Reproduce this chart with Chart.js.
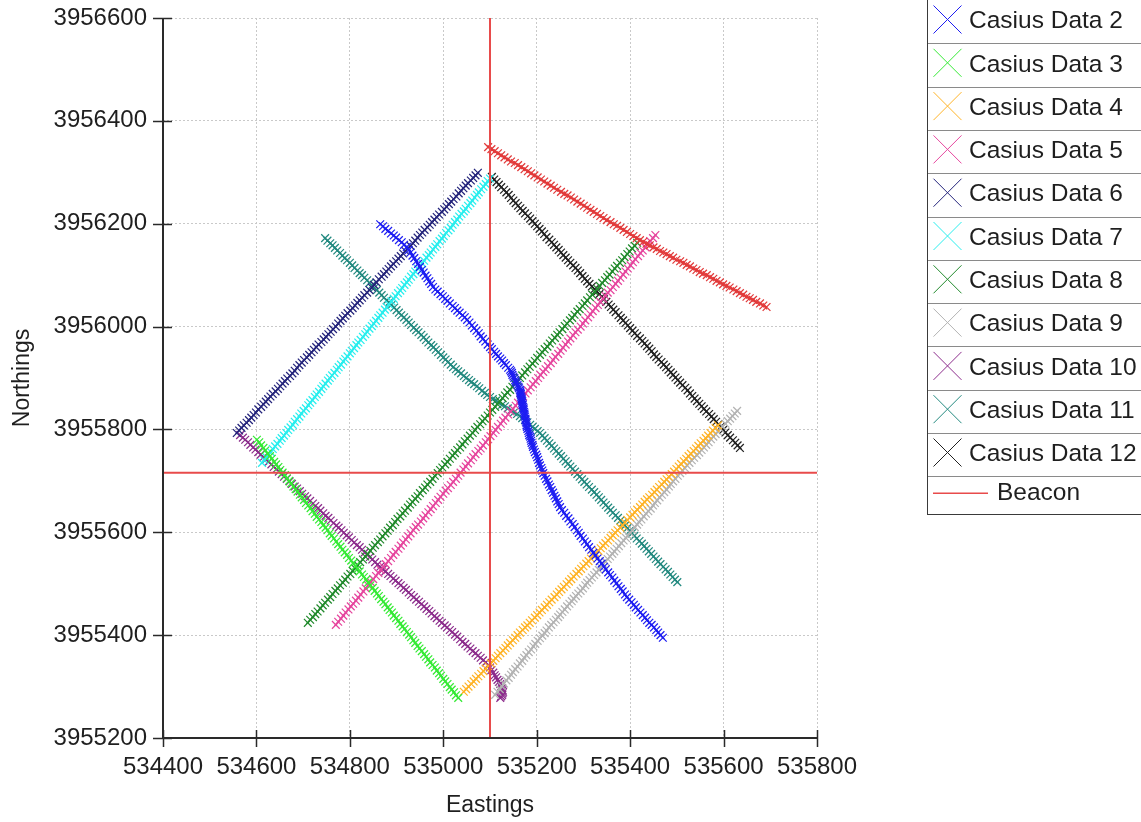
<!DOCTYPE html>
<html>
<head>
<meta charset="utf-8">
<title>Casius survey tracks</title>
<script src="https://cdn.jsdelivr.net/npm/chart.js@4.4.1/dist/chart.umd.min.js"></script>
<style>
  html, body { margin: 0; padding: 0; background: #ffffff; }
  #wrap { width: 1141px; height: 822px; }
</style>
</head>
<body>
<div id="wrap"><canvas id="chart" width="1141" height="822"></canvas></div>
<script>
// Axis ticks (UTM metres)
const eastTicks = [534400, 534600, 534800, 535000, 535200, 535400, 535600, 535800];
const northTicks = [3955200, 3955400, 3955600, 3955800, 3956000, 3956200, 3956400, 3956600];

const seriesNames = ['Casius Data 1', 'Casius Data 2', 'Casius Data 3', 'Casius Data 4',
  'Casius Data 5', 'Casius Data 6', 'Casius Data 7', 'Casius Data 8', 'Casius Data 9',
  'Casius Data 10', 'Casius Data 11', 'Casius Data 12'];

// Beacon position
const beaconEast = 535100;
const beaconNorth = 3955716;

// Track fixes: eastings / northings per run
const east1 = [535096,535103,535110,535117,535124,535131,535138,535145,535153,535160,535167,535174,535181,535188,535195,535202,535209,535216,535223,535230,535237,535244,535252,535259,535266,535273,535280,535287,535294,535301,535308,535315,535322,535329,535336,535343,535350,535358,535365,535372,535379,535386,535393,535400,535407,535414,535421,
  535428,535435,535442,535450,535457,535464,535471,535478,535485,535492,535499,535507,535514,535521,535528,535535,535542,535549,535556,535564,535571,535578,535585,535592,535599,535606,535613,535621,535628,535635,535642,535649,535656,535663,535670,535678,535685,535692];
const north1 = [3956349,3956345,3956341,3956337,3956333,3956329,3956325,3956321,3956318,3956314,3956310,3956306,3956302,3956298,3956294,3956290,3956286,3956282,3956278,3956274,3956270,3956266,3956262,3956258,3956255,3956251,3956247,3956243,3956239,3956235,3956231,3956227,3956223,3956219,3956215,3956211,3956207,3956203,3956199,3956196,3956192,3956188,3956184,3956180,3956176,3956172,3956168,
  3956165,3956161,3956158,3956154,3956151,3956147,3956144,3956141,3956137,3956134,3956130,3956127,3956124,3956120,3956117,3956113,3956110,3956106,3956103,3956100,3956096,3956093,3956089,3956086,3956082,3956079,3956076,3956072,3956069,3956065,3956062,3956058,3956055,3956052,3956048,3956045,3956041,3956038];

const east2 = [534865,534871,534876,534882,534888,534894,534899,534905,534911,534916,534922,
  534926,534930,534934,534938,534942,534946,534950,534954,534958,534962,534966,534970,534974,534978,
  534983,534988,534994,534999,535004,535009,535014,535020,535025,535030,535035,535041,535046,535051,
  535056,535061,535066,535071,535076,535080,535085,535090,535095,535100,
  535104,535109,535113,535117,535122,535126,535130,535134,535139,535143,
  535145,535147,535148,535150,535152,535154,535155,535157,535159,535161,535162,535164,
  535165,535165,535166,535166,535167,535168,535168,535169,535169,535170,535170,535171,
  535172,535172,535173,535174,535174,535175,535176,535176,535177,535178,535178,535179,
  535180,535182,535183,535184,535186,535187,535188,535189,535191,535192,
  535194,535196,535199,535201,535203,535205,535207,535210,535212,535214,
  535217,535220,535223,535226,535229,535232,535235,535238,535241,535244,535247,535250,
  535254,535259,535263,535268,535272,535277,535281,535286,535290,535294,535299,535303,535308,535312,535317,535321,
  535326,535330,535335,535339,535344,535348,535353,535357,535362,535366,535371,535375,535380,535384,535389,535393,
  535398,535403,535408,535412,535417,535422,535427,535432,535436,535441,535446,535451,535456,535460,535465,535470];
const north2 = [3956199,3956195,3956190,3956186,3956181,3956177,3956173,3956168,3956164,3956159,3956155,
  3956149,3956144,3956138,3956133,3956127,3956122,3956116,3956110,3956105,3956099,3956094,3956088,3956083,3956077,
  3956072,3956068,3956063,3956059,3956054,3956050,3956045,3956040,3956036,3956031,3956027,3956022,3956018,3956013,
  3956008,3956002,3955997,3955992,3955987,3955981,3955976,3955971,3955965,3955960,
  3955956,3955951,3955947,3955942,3955938,3955934,3955929,3955925,3955920,3955916,
  3955913,3955910,3955906,3955903,3955900,3955896,3955893,3955890,3955886,3955883,3955880,3955877,
  3955874,3955871,3955869,3955866,3955863,3955860,3955858,3955855,3955852,3955849,3955847,3955844,
  3955841,3955838,3955834,3955831,3955828,3955825,3955821,3955818,3955815,3955812,3955808,3955805,
  3955801,3955797,3955793,3955789,3955786,3955782,3955778,3955774,3955770,3955766,
  3955761,3955756,3955751,3955746,3955741,3955735,3955730,3955725,3955720,3955715,
  3955710,3955704,3955699,3955693,3955688,3955682,3955677,3955671,3955666,3955660,3955655,3955649,
  3955643,3955638,3955632,3955627,3955621,3955616,3955610,3955604,3955599,3955593,3955588,3955582,3955577,3955571,3955566,3955560,
  3955555,3955549,3955544,3955539,3955533,3955528,3955522,3955517,3955512,3955506,3955501,3955495,3955490,3955485,3955479,3955474,
  3955469,3955464,3955459,3955454,3955449,3955444,3955439,3955434,3955429,3955424,3955420,3955415,3955410,3955405,3955400,3955395];

const east3 = [534601,534606,534610,534615,534619,534624,534629,534633,534638,534642,534647,534651,534656,534661,534665,534670,534674,534679,534684,534688,534693,534697,534702,534706,534711,534716,534720,534725,534729,534734,534739,534743,534748,534752,534757,534761,534766,534771,534775,534780,534784,534789,534794,534798,534803,534807,534812,534817,534821,534826,534830,534835,534839,534844,534849,534853,534858,534862,534867,534872,534876,534881,534885,534890,534894,534899,534904,534908,534913,534917,534922,534927,534931,534936,534940,534945,534949,534954,534959,534963,534968,534972,534977,534982,534986,534991,534995,535000,535004,535009,535014,535018,535023,535027,535032];
const north3 = [3955780,3955775,3955769,3955764,3955759,3955753,3955748,3955743,3955737,3955732,3955727,3955721,3955716,3955711,3955705,3955700,3955695,3955689,3955684,3955679,3955673,3955668,3955663,3955657,3955652,3955647,3955641,3955636,3955630,3955625,3955620,3955614,3955609,3955604,3955598,3955593,3955588,3955582,3955577,3955572,3955566,3955561,3955556,3955550,3955545,3955540,3955534,3955529,3955524,3955518,3955513,3955508,3955502,3955497,3955492,3955486,3955481,3955476,3955470,3955465,3955460,3955454,3955449,3955444,3955438,3955433,3955428,3955422,3955417,3955412,3955406,3955401,3955396,3955390,3955385,3955379,3955374,3955369,3955363,3955358,3955353,3955347,3955342,3955337,3955331,3955326,3955321,3955315,3955310,3955305,3955299,3955294,3955289,3955283,3955278];

const east4 = [535044,535049,535054,535060,535065,535070,535075,535081,535086,535091,535096,535102,535107,535112,535117,535122,535128,535133,535138,535143,535149,535154,535159,535164,535170,535175,535180,535185,535190,535196,535201,535206,535211,535217,535222,535227,535232,535238,535243,535248,535253,535258,535264,535269,535274,535279,535285,535290,535295,535300,535306,535311,535316,535321,535326,535332,535337,535342,535347,535353,535358,535363,535368,535373,535379,535384,535389,535394,535400,535405,535410,535415,535421,535426,535431,535436,535441,535447,535452,535457,535462,535468,535473,535478,535483,535489,535494,535499,535504,535509,535515,535520,535525,535530,535536,535541,535546,535551,535557,535562,535567,535572,535577,535583,535588];
const north4 = [3955290,3955295,3955300,3955305,3955310,3955315,3955320,3955325,3955330,3955335,3955340,3955345,3955350,3955355,3955360,3955365,3955370,3955375,3955380,3955385,3955390,3955395,3955400,3955405,3955410,3955415,3955419,3955424,3955429,3955434,3955439,3955444,3955449,3955454,3955459,3955464,3955469,3955474,3955479,3955484,3955489,3955494,3955499,3955504,3955509,3955514,3955519,3955524,3955529,3955534,3955539,3955544,3955549,3955554,3955559,3955564,3955569,3955574,3955579,3955584,3955589,3955594,3955599,3955604,3955609,3955614,3955619,3955624,3955629,3955634,3955639,3955644,3955649,3955654,3955659,3955664,3955668,3955673,3955678,3955683,3955688,3955693,3955698,3955703,3955708,3955713,3955718,3955723,3955728,3955733,3955738,3955743,3955748,3955753,3955758,3955763,3955768,3955773,3955778,3955783,3955788,3955793,3955798,3955803,3955808];

const east5 = [534770,534775,534781,534786,534791,534797,534802,534807,534813,534818,534823,534829,534834,534839,534845,534850,534856,534861,534866,534872,534877,534882,534888,534893,534898,534904,534909,534914,534920,534925,534930,534936,534941,534946,534952,534957,534962,534968,534973,534978,534984,534989,534994,535000,535005,535010,535016,535021,535027,535032,535037,535043,535048,535053,535059,535064,535069,535075,535080,535085,535091,535096,535101,535107,535112,535117,535123,535128,535133,535139,535144,535149,535155,535160,535165,535171,535176,535181,535187,535192,535198,535203,535208,535214,535219,535224,535230,535235,535240,535246,535251,535256,535262,535267,535272,535278,535283,535288,535294,535299,535304,535310,535315,535320,535326,535331,535336,535342,535347,535352,535358,535363,535369,535374,535379,535385,535390,535395,535401,535406,535411,535417,535422,535427,535433,535438,535443,535449,535454];
const north5 = [3955420,3955426,3955432,3955438,3955444,3955450,3955456,3955461,3955467,3955473,3955479,3955485,3955491,3955497,3955503,3955509,3955515,3955521,3955527,3955533,3955538,3955544,3955550,3955556,3955562,3955568,3955574,3955580,3955586,3955592,3955598,3955604,3955610,3955615,3955621,3955627,3955633,3955639,3955645,3955651,3955657,3955663,3955669,3955675,3955681,3955686,3955692,3955698,3955704,3955710,3955716,3955722,3955728,3955734,3955740,3955746,3955752,3955758,3955763,3955769,3955775,3955781,3955787,3955793,3955799,3955805,3955811,3955817,3955823,3955829,3955835,3955840,3955846,3955852,3955858,3955864,3955870,3955876,3955882,3955888,3955894,3955900,3955906,3955912,3955917,3955923,3955929,3955935,3955941,3955947,3955953,3955959,3955965,3955971,3955977,3955983,3955989,3955994,3956000,3956006,3956012,3956018,3956024,3956030,3956036,3956042,3956048,3956054,3956060,3956066,3956071,3956077,3956083,3956089,3956095,3956101,3956107,3956113,3956119,3956125,3956131,3956137,3956143,3956148,3956154,3956160,3956166,3956172,3956178];

const east6 = [534558,534563,534568,534573,534579,534584,534589,534594,534599,534604,534610,534615,534620,534625,534630,534635,534641,534646,534651,534656,534661,534666,534672,534677,534682,534687,534692,534697,534702,534708,534713,534718,534723,534728,534733,534739,534744,534749,534754,534759,534764,534770,534775,534780,534785,534790,534795,534801,534806,534811,534816,534821,534826,534831,534837,534842,534847,534852,534857,534862,534868,534873,534878,534883,534888,534893,534899,534904,534909,534914,534919,534924,534930,534935,534940,534945,534950,534955,534960,534966,534971,534976,534981,534986,534991,534997,535002,535007,535012,535017,535022,535028,535033,535038,535043,535048,535053,535059,535064,535069,535074];
const north6 = [3955793,3955798,3955803,3955808,3955813,3955818,3955823,3955828,3955833,3955839,3955844,3955849,3955854,3955859,3955864,3955869,3955874,3955879,3955884,3955889,3955894,3955899,3955904,3955909,3955914,3955920,3955925,3955930,3955935,3955940,3955945,3955950,3955955,3955960,3955965,3955970,3955975,3955980,3955985,3955990,3955995,3956000,3956006,3956011,3956016,3956021,3956026,3956031,3956036,3956041,3956046,3956051,3956056,3956061,3956066,3956071,3956076,3956081,3956086,3956092,3956097,3956102,3956107,3956112,3956117,3956122,3956127,3956132,3956137,3956142,3956147,3956152,3956157,3956162,3956167,3956173,3956178,3956183,3956188,3956193,3956198,3956203,3956208,3956213,3956218,3956223,3956228,3956233,3956238,3956243,3956248,3956253,3956259,3956264,3956269,3956274,3956279,3956284,3956289,3956294,3956299];

const east7 = [534612,534617,534621,534626,534631,534635,534640,534645,534650,534654,534659,534664,534668,534673,534678,534682,534687,534692,534696,534701,534706,534711,534715,534720,534725,534729,534734,534739,534743,534748,534753,534757,534762,534767,534772,534776,534781,534786,534790,534795,534800,534804,534809,534814,534818,534823,534828,534833,534837,534842,534847,534851,534856,534861,534865,534870,534875,534879,534884,534889,534894,534898,534903,534908,534912,534917,534922,534926,534931,534936,534940,534945,534950,534955,534959,534964,534969,534973,534978,534983,534987,534992,534997,535001,535006,535011,535016,535020,535025,535030,535034,535039,535044,535048,535053,535058,535062,535067,535072,535076,535081,535086,535091,535095,535100];
const north7 = [3955735,3955740,3955746,3955751,3955756,3955762,3955767,3955772,3955778,3955783,3955788,3955793,3955799,3955804,3955809,3955815,3955820,3955825,3955831,3955836,3955841,3955847,3955852,3955857,3955863,3955868,3955873,3955879,3955884,3955889,3955895,3955900,3955905,3955910,3955916,3955921,3955926,3955932,3955937,3955942,3955948,3955953,3955958,3955964,3955969,3955974,3955980,3955985,3955990,3955996,3956001,3956006,3956011,3956017,3956022,3956027,3956033,3956038,3956043,3956049,3956054,3956059,3956065,3956070,3956075,3956081,3956086,3956091,3956097,3956102,3956107,3956113,3956118,3956123,3956128,3956134,3956139,3956144,3956150,3956155,3956160,3956166,3956171,3956176,3956182,3956187,3956192,3956198,3956203,3956208,3956214,3956219,3956224,3956229,3956235,3956240,3956245,3956251,3956256,3956261,3956267,3956272,3956277,3956283,3956288];

const east8 = [534710,534715,534721,534726,534731,534737,534742,534747,534753,534758,534763,534769,534774,534779,534785,534790,534795,534801,534806,534811,534817,534822,534828,534833,534838,534844,534849,534854,534860,534865,534870,534876,534881,534886,534892,534897,534902,534908,534913,534918,534924,534929,534934,534940,534945,534950,534956,534961,534966,534972,534977,534982,534988,534993,534998,535004,535009,535014,535020,535025,535030,535036,535041,535046,535052,535057,535063,535068,535073,535079,535084,535089,535095,535100,535105,535111,535116,535121,535127,535132,535137,535143,535148,535153,535159,535164,535169,535175,535180,535185,535191,535196,535201,535207,535212,535217,535223,535228,535233,535239,535244,535249,535255,535260,535265,535271,535276,535281,535287,535292,535298,535303,535308,535314,535319,535324,535330,535335,535340,535346,535351,535356,535362,535367,535372,535378,535383,535388,535394,535399,535404,535410,535415];
const north8 = [3955424,3955430,3955435,3955441,3955446,3955452,3955458,3955463,3955469,3955474,3955480,3955486,3955491,3955497,3955502,3955508,3955514,3955519,3955525,3955530,3955536,3955542,3955547,3955553,3955558,3955564,3955570,3955575,3955581,3955586,3955592,3955598,3955603,3955609,3955614,3955620,3955626,3955631,3955637,3955642,3955648,3955654,3955659,3955665,3955670,3955676,3955682,3955687,3955693,3955698,3955704,3955710,3955715,3955721,3955726,3955732,3955737,3955743,3955749,3955754,3955760,3955765,3955771,3955777,3955782,3955788,3955793,3955799,3955805,3955810,3955816,3955821,3955827,3955833,3955838,3955844,3955849,3955855,3955861,3955866,3955872,3955877,3955883,3955889,3955894,3955900,3955905,3955911,3955917,3955922,3955928,3955933,3955939,3955945,3955950,3955956,3955961,3955967,3955973,3955978,3955984,3955989,3955995,3956001,3956006,3956012,3956017,3956023,3956029,3956034,3956040,3956045,3956051,3956057,3956062,3956068,3956073,3956079,3956085,3956090,3956096,3956101,3956107,3956113,3956118,3956124,3956129,3956135,3956141,3956146,3956152,3956157,3956163];

const east9 = [535111,535116,535121,535125,535130,535135,535140,535145,535149,535154,535159,535164,535169,535173,535178,535183,535188,535193,535197,535202,535207,
  535212,535217,535221,535226,535231,535236,535241,535246,535250,535255,535260,535265,535270,535275,535279,535284,535289,535294,535299,535304,535308,535313,535318,535323,535328,535333,535337,535342,535347,535352,535357,535362,535366,535371,535376,535381,535386,535391,535395,535400,
  535405,535410,535415,535419,535424,535429,535434,535439,535444,535449,535453,535458,535463,535468,535473,535478,535483,535487,535492,535497,535502,535507,
  535512,535517,535522,535527,535532,535537,535543,535548,535553,535558,535563,535568,535573,535578,535583,535588,535593,535598,535604,535609,535614,535619,535624,535629];
const north9 = [3955284,3955290,3955295,3955301,3955306,3955312,3955317,3955323,3955328,3955334,3955339,3955345,3955350,3955356,3955361,3955367,3955372,3955378,3955383,3955389,3955394,
  3955399,3955404,3955409,3955415,3955420,3955425,3955430,3955435,3955440,3955445,3955450,3955456,3955461,3955466,3955471,3955476,3955481,3955486,3955491,3955497,3955502,3955507,3955512,3955517,3955522,3955527,3955532,3955538,3955543,3955548,3955553,3955558,3955563,3955568,3955573,3955579,3955584,3955589,3955594,3955599,
  3955604,3955610,3955615,3955620,3955625,3955631,3955636,3955641,3955646,3955652,3955657,3955662,3955668,3955673,3955678,3955683,3955689,3955694,3955699,3955704,3955710,3955715,
  3955720,3955725,3955730,3955735,3955740,3955745,3955750,3955755,3955760,3955765,3955770,3955775,3955781,3955786,3955791,3955796,3955801,3955806,3955811,3955816,3955821,3955826,3955831,3955836];

const east10 = [534565,534571,534576,534582,534587,534593,534598,534604,534609,534615,534621,534626,534632,534637,534643,534648,534654,534659,534665,534671,534676,534682,534687,534693,534698,534704,534709,534715,534721,534726,534732,534737,534743,534748,534754,534759,534765,534771,534776,534782,534787,534793,534798,534804,534809,534815,534821,534826,534832,534837,534843,534848,534854,534859,534865,
  534871,534876,534882,534887,534893,534898,534904,534909,534915,534920,534926,534931,534937,534942,534948,534953,534959,534964,534970,534975,534981,534986,534992,534997,535003,535008,535014,535019,535025,535030,535036,535041,535047,535052,535058,535063,535069,535074,535080,535085,535091,535096,
  535100,535103,535107,535110,535113,535116,535119,535122,535124,535126,535127,535128,535127,535126,535124,535122];
const north10 = [3955789,3955784,3955780,3955775,3955770,3955765,3955761,3955756,3955751,3955746,3955742,3955737,3955732,3955727,3955723,3955718,3955713,3955708,3955704,3955699,3955694,3955689,3955685,3955680,3955675,3955670,3955666,3955661,3955656,3955651,3955647,3955642,3955637,3955632,3955628,3955623,3955618,3955613,3955609,3955604,3955599,3955594,3955590,3955585,3955580,3955575,3955571,3955566,3955561,3955556,3955552,3955547,3955542,3955537,3955533,
  3955528,3955524,3955519,3955515,3955510,3955506,3955501,3955497,3955492,3955488,3955483,3955478,3955474,3955469,3955465,3955460,3955456,3955451,3955447,3955442,3955437,3955433,3955428,3955424,3955419,3955415,3955410,3955406,3955401,3955397,3955392,3955387,3955383,3955378,3955374,3955369,3955365,3955360,3955356,3955351,3955347,3955342,
  3955337,3955332,3955327,3955322,3955318,3955313,3955309,3955305,3955301,3955297,3955293,3955290,3955287,3955284,3955281,3955278];

const east11 = [534747,534752,534758,534763,534768,534773,534779,534784,534789,534794,534800,534805,534810,534816,534821,534826,534831,534837,534842,534847,534852,534858,534863,534868,534873,534879,534884,534889,534895,534900,534905,534910,534916,534921,534926,534931,534937,534942,534947,534953,534958,534963,534968,534974,534979,534984,534989,534995,535000,535005,535010,535016,535021,
  535027,535032,535038,535044,535049,535055,535060,535066,535072,535077,535083,535089,535094,535100,
  535106,535113,535119,535126,535132,535138,535145,535151,535158,535164,
  535169,535175,535180,535186,535191,535196,535202,535207,
  535212,535217,535222,535227,535232,535237,535242,535247,535252,535257,535262,535267,535272,535277,535282,535287,
  535292,535297,535302,535307,535312,535318,535323,535328,535333,535338,535343,535348,535353,535358,535363,535369,535374,535379,535384,535389,535394,535399,535404,535409,535414,535420,535425,535430,535435,535440,535445,535450,535455,535460,535465,535471,535476,535481,535486,535491,535496,535501];
const north11 = [3956172,3956167,3956162,3956158,3956153,3956148,3956143,3956138,3956133,3956129,3956124,3956119,3956114,3956109,3956104,3956100,3956095,3956090,3956085,3956080,3956075,3956071,3956066,3956061,3956056,3956051,3956047,3956042,3956037,3956032,3956027,3956022,3956018,3956013,3956008,3956003,3955998,3955993,3955989,3955984,3955979,3955974,3955969,3955964,3955960,3955955,3955950,3955945,3955940,3955936,3955931,3955926,3955921,
  3955917,3955913,3955909,3955904,3955900,3955896,3955892,3955888,3955884,3955880,3955875,3955871,3955867,3955863,
  3955859,3955856,3955852,3955848,3955845,3955841,3955837,3955833,3955830,3955826,
  3955822,3955818,3955814,3955809,3955805,3955801,3955797,3955793,
  3955788,3955783,3955778,3955773,3955768,3955763,3955758,3955753,3955748,3955743,3955738,3955733,3955728,3955723,3955718,3955713,
  3955708,3955703,3955698,3955693,3955688,3955683,3955678,3955673,3955668,3955663,3955658,3955653,3955648,3955643,3955638,3955633,3955628,3955623,3955618,3955613,3955608,3955603,3955598,3955593,3955588,3955583,3955578,3955573,3955568,3955563,3955558,3955553,3955548,3955543,3955538,3955533,3955528,3955523,3955518,3955513,3955508,3955503];

const east12 = [535104,535109,535114,535119,535124,535130,535135,535140,535145,535150,535155,535160,535165,535170,535175,535181,535186,535191,535196,535201,535206,535211,535216,535221,535227,535232,535237,535242,535247,535252,535257,535262,535267,535272,535278,535283,535288,535293,535298,535303,535308,535313,535318,535324,535329,535334,535339,535344,535349,535354,535359,535364,535369,535375,535380,535385,535390,535395,535400,535405,535410,535415,535421,535426,535431,535436,535441,535446,535451,535456,535461,535467,535472,535477,535482,535487,535492,535497,535502,535507,535512,535518,535523,535528,535533,535538,535543,535548,535553,535558,535563,535569,535574,535579,535584,535589,535594,535599,535604,535609,535614,535620,535625,535630,535635];
const north12 = [3956291,3956286,3956281,3956276,3956271,3956266,3956261,3956256,3956250,3956245,3956240,3956235,3956230,3956225,3956220,3956215,3956210,3956205,3956200,3956195,3956190,3956185,3956180,3956174,3956169,3956164,3956159,3956154,3956149,3956144,3956139,3956134,3956129,3956124,3956119,3956114,3956109,3956104,3956098,3956093,3956088,3956083,3956078,3956073,3956068,3956063,3956058,3956053,3956048,3956043,3956038,3956033,3956028,3956022,3956017,3956012,3956007,3956002,3955997,3955992,3955987,3955982,3955977,3955972,3955967,3955962,3955957,3955952,3955946,3955941,3955936,3955931,3955926,3955921,3955916,3955911,3955906,3955901,3955896,3955891,3955886,3955881,3955876,3955870,3955865,3955860,3955855,3955850,3955845,3955840,3955835,3955830,3955825,3955820,3955815,3955810,3955805,3955799,3955794,3955789,3955784,3955779,3955774,3955769,3955764];

const tracks = [
  [east1, north1], [east2, north2], [east3, north3], [east4, north4],
  [east5, north5], [east6, north6], [east7, north7], [east8, north8],
  [east9, north9], [east10, north10], [east11, north11], [east12, north12]
];

const trackColors = ['#e23a3a', '#1d1df2', '#35ea35', '#ffb326', '#e6469e', '#25257c',
  '#28eeee', '#218a2c', '#b3b3b3', '#8c2c8c', '#22897f', '#222222'];
const beaconColor = '#e84b4b';

const FONT = "'Liberation Sans', Arial, Helvetica, sans-serif";
const TEXT = '#1f1f1f';

function toPoints(e, n) {
  const pts = [];
  const len = Math.min(e.length, n.length);
  for (let i = 0; i < len; i++) pts.push({ x: e[i], y: n[i] });
  return pts;
}

const datasets = tracks.map((t, i) => ({
  label: seriesNames[i],
  data: toPoints(t[0], t[1]),
  showLine: true,
  borderColor: trackColors[i],
  backgroundColor: trackColors[i],
  borderWidth: 1.4,
  pointStyle: 'crossRot',
  pointRadius: 5.5,
  pointHoverRadius: 5.5,
  pointBorderWidth: 1.25,
  pointBorderColor: trackColors[i],
  inLegend: i > 0
}));

const eMin = eastTicks[0], eMax = eastTicks[eastTicks.length - 1];
const nMin = northTicks[0], nMax = northTicks[northTicks.length - 1];

// Beacon cross-hair: one vertical and one horizontal line through the beacon
datasets.push({
  label: 'Beacon',
  data: [{ x: beaconEast, y: nMin }, { x: beaconEast, y: nMax }],
  showLine: true, borderColor: beaconColor, backgroundColor: beaconColor,
  borderWidth: 2, pointRadius: 0, pointHoverRadius: 0, order: -1, inLegend: true
});
datasets.push({
  label: 'Beacon',
  data: [{ x: eMin, y: beaconNorth }, { x: eMax, y: beaconNorth }],
  showLine: true, borderColor: beaconColor, backgroundColor: beaconColor,
  borderWidth: 2, pointRadius: 0, pointHoverRadius: 0, order: -1, inLegend: false
});

// Solid axis lines with ticks that cross the axis
const axisFrame = {
  id: 'axisFrame',
  afterDraw(chart) {
    const { ctx, chartArea, scales } = chart;
    const { left, right, top, bottom } = chartArea;
    ctx.save();
    ctx.strokeStyle = '#2a2a2a';
    ctx.lineWidth = 2;
    ctx.beginPath();
    ctx.moveTo(left, top);
    ctx.lineTo(left, bottom);
    ctx.lineTo(right, bottom);
    ctx.stroke();
    ctx.lineWidth = 1.5;
    ctx.beginPath();
    eastTicks.forEach(v => {
      const px = Math.round(scales.x.getPixelForValue(v)) + 0.5;
      ctx.moveTo(px, bottom - 8);
      ctx.lineTo(px, bottom + 9);
    });
    northTicks.forEach(v => {
      const py = Math.round(scales.y.getPixelForValue(v)) + 0.5;
      ctx.moveTo(left - 10, py);
      ctx.lineTo(left + 9, py);
    });
    ctx.stroke();
    ctx.restore();
  }
};

// Boxed legend at the right, one bordered row per entry
const boxLegend = {
  id: 'boxLegend',
  afterDraw(chart) {
    const { ctx } = chart;
    const items = chart.data.datasets.filter(d => d.inLegend);
    const x0 = 927.5, x1 = 1150;
    const rowH = 43.3, lastH = 38;
    ctx.save();
    ctx.font = '24.5px ' + FONT;
    ctx.textBaseline = 'middle';
    ctx.textAlign = 'left';
    let y = 0;
    items.forEach((d, i) => {
      const isLast = i === items.length - 1;
      const h = isLast ? lastH : rowH;
      const color = d.borderColor;
      if (d.pointStyle === 'crossRot') {
        const cy = y + 19.5;
        ctx.strokeStyle = color;
        ctx.lineWidth = 1;
        ctx.beginPath();
        ctx.moveTo(933.5, cy - 14); ctx.lineTo(961.5, cy + 14);
        ctx.moveTo(961.5, cy - 14); ctx.lineTo(933.5, cy + 14);
        ctx.stroke();
        ctx.fillStyle = TEXT;
        ctx.fillText(d.label, 969, y + 21.5);
      } else {
        const cy = y + 17;
        ctx.strokeStyle = color;
        ctx.lineWidth = 1.5;
        ctx.beginPath();
        ctx.moveTo(933, cy); ctx.lineTo(988, cy);
        ctx.stroke();
        ctx.fillStyle = TEXT;
        ctx.fillText(d.label, 997, cy);
      }
      y += h;
      if (!isLast) {
        ctx.strokeStyle = '#8a8a8a';
        ctx.lineWidth = 1;
        ctx.beginPath();
        ctx.moveTo(x0, Math.round(y) + 0.5);
        ctx.lineTo(x1, Math.round(y) + 0.5);
        ctx.stroke();
      }
    });
    ctx.strokeStyle = '#3a3a3a';
    ctx.lineWidth = 1;
    ctx.strokeRect(x0, -1.5, x1 - x0, Math.round(y) + 2);
    ctx.restore();
  }
};

Chart.defaults.font.family = FONT;
Chart.defaults.color = TEXT;

const gridStyle = { color: '#c9c9c9', lineWidth: 1, drawTicks: false };

new Chart(document.getElementById('chart'), {
  type: 'scatter',
  data: { datasets },
  options: {
    responsive: false,
    animation: false,
    events: [],
    layout: { padding: { left: 0, right: 324, top: 18, bottom: 0 } },
    plugins: { legend: { display: false }, tooltip: { enabled: false } },
    scales: {
      x: {
        type: 'linear',
        min: eMin, max: eMax,
        afterBuildTicks: s => { s.ticks = eastTicks.map(v => ({ value: v })); },
        afterFit: s => { s.height = 84; s.paddingLeft = 0; s.paddingRight = 0; },
        grid: gridStyle,
        border: { display: false, dash: [2, 2] },
        ticks: { padding: 15, color: TEXT, font: { size: 24 }, maxRotation: 0, autoSkip: false, callback: v => String(v) },
        title: { display: true, text: 'Eastings', color: TEXT, font: { size: 23 }, padding: { top: 0, bottom: 3 } }
      },
      y: {
        type: 'linear',
        min: nMin, max: nMax,
        afterBuildTicks: s => { s.ticks = northTicks.map(v => ({ value: v })); },
        afterFit: s => { s.width = 163; s.paddingTop = 0; s.paddingBottom = 0; },
        grid: gridStyle,
        border: { display: false, dash: [2, 2] },
        ticks: { padding: 16, color: TEXT, font: { size: 24 }, autoSkip: false, callback: v => String(v) },
        title: { display: true, text: 'Northings', color: TEXT, font: { size: 23 }, padding: { top: 9, bottom: 0 } }
      }
    }
  },
  plugins: [axisFrame, boxLegend]
});
</script>
</body>
</html>
